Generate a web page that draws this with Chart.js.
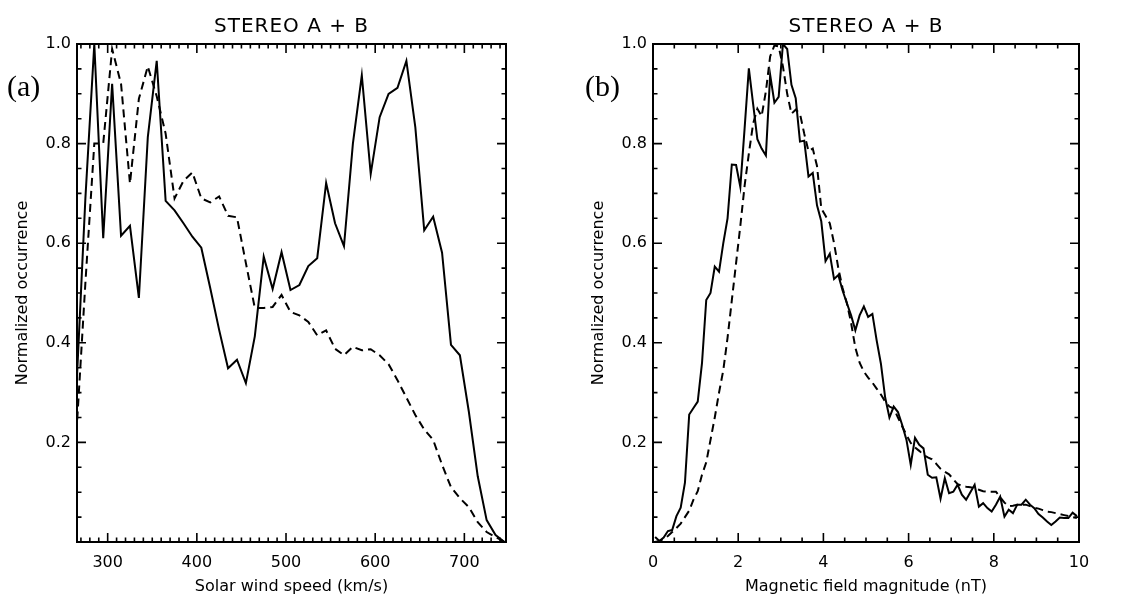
<!DOCTYPE html>
<html>
<head>
<meta charset="utf-8">
<script src="https://cdn.jsdelivr.net/npm/chart.js@4"></script>
<style>
  body { margin: 0; background: #fff; }
  #wrap { position: relative; width: 1132px; height: 599px; }
  canvas { position: absolute; top: 0; }
</style>
</head>
<body>
<div id="wrap">
  <canvas id="panelA" width="566" height="599" style="left:0"></canvas>
  <canvas id="panelB" width="566" height="599" style="left:566px"></canvas>
</div>
<script>
// panel (a): solar wind speed bins (km/s)
var speedBins = [265, 275, 285, 295, 305, 315, 325, 335, 345, 355, 365, 375, 385, 395, 405, 415, 425,
  435, 445, 455, 465, 475, 485, 495, 505, 515, 525, 535, 545, 555, 565, 575, 585, 595, 605, 615, 625,
  635, 645, 655, 665, 675, 685, 695, 705, 715, 725, 735, 745];
var speedSolid = [0.31, 0.69, 1.0, 0.61, 0.92, 0.615, 0.635, 0.49, 0.813, 0.966, 0.685, 0.666, 0.64,
  0.613, 0.591, 0.51, 0.426, 0.349, 0.366, 0.319, 0.413, 0.573, 0.508, 0.582, 0.506, 0.516, 0.554, 0.57,
  0.721, 0.64, 0.594, 0.8, 0.937, 0.739, 0.853, 0.9, 0.912, 0.966, 0.833, 0.626, 0.653, 0.581, 0.396,
  0.375, 0.262, 0.132, 0.044, 0.014, 0.0];
var speedDashed = [0.22, 0.52, 0.8, 0.8, 0.99, 0.92, 0.72, 0.89, 0.955, 0.895, 0.82, 0.69, 0.725, 0.742,
  0.69, 0.682, 0.694, 0.655, 0.652, 0.56, 0.47, 0.47, 0.472, 0.496, 0.462, 0.455, 0.442, 0.415, 0.425,
  0.388, 0.375, 0.392, 0.385, 0.387, 0.375, 0.357, 0.325, 0.29, 0.255, 0.226, 0.205, 0.155, 0.11, 0.088,
  0.07, 0.04, 0.02, 0.01, 0.0];
var speedTicks = [300, 400, 500, 600, 700];

// panel (b): magnetic field magnitude bins (nT)
var fieldBins = [0.05, 0.15, 0.25, 0.35, 0.45, 0.55, 0.65, 0.75, 0.85, 0.95,
  1.05, 1.15, 1.25, 1.35, 1.45, 1.55, 1.65, 1.75, 1.85, 1.95,
  2.05, 2.15, 2.25, 2.35, 2.45, 2.55, 2.65, 2.75, 2.85, 2.95,
  3.05, 3.15, 3.25, 3.35, 3.45, 3.55, 3.65, 3.75, 3.85, 3.95,
  4.05, 4.15, 4.25, 4.35, 4.45, 4.55, 4.65, 4.75, 4.85, 4.95,
  5.05, 5.15, 5.25, 5.35, 5.45, 5.55, 5.65, 5.75, 5.85, 5.95,
  6.05, 6.15, 6.25, 6.35, 6.45, 6.55, 6.65, 6.75, 6.85, 6.95,
  7.05, 7.15, 7.25, 7.35, 7.45, 7.55, 7.65, 7.75, 7.85, 7.95,
  8.05, 8.15, 8.25, 8.35, 8.45, 8.55, 8.65, 8.75, 8.85, 8.95,
  9.05, 9.15, 9.25, 9.35, 9.45, 9.55, 9.65, 9.75, 9.85, 9.95];
var fieldSolid = [0.01, 0.002, 0.009, 0.022, 0.024, 0.052, 0.069, 0.119, 0.256, 0.269,
  0.282, 0.359, 0.486, 0.5, 0.553, 0.543, 0.6, 0.65, 0.758, 0.757,
  0.713, 0.83, 0.951, 0.88, 0.809, 0.79, 0.776, 0.938, 0.882, 0.894,
  1.0, 0.99, 0.918, 0.891, 0.804, 0.806, 0.734, 0.741, 0.676, 0.644,
  0.564, 0.579, 0.528, 0.536, 0.505, 0.48, 0.455, 0.425, 0.455, 0.473,
  0.452, 0.458, 0.405, 0.358, 0.29, 0.25, 0.272, 0.261, 0.235, 0.205,
  0.155, 0.209, 0.195, 0.188, 0.135, 0.129, 0.13, 0.087, 0.128, 0.098,
  0.101, 0.115, 0.095, 0.085, 0.1, 0.115, 0.071, 0.078, 0.068, 0.061,
  0.075, 0.091, 0.051, 0.065, 0.058, 0.075, 0.075, 0.085, 0.075, 0.068,
  0.056, 0.049, 0.041, 0.034, 0.041, 0.049, 0.048, 0.048, 0.059, 0.052];
var fieldDashed = [0.0, 0.002, 0.006, 0.012, 0.02, 0.028, 0.037, 0.05, 0.063, 0.085,
  0.102, 0.135, 0.16, 0.205, 0.25, 0.3, 0.345, 0.41, 0.485, 0.56,
  0.635, 0.715, 0.78, 0.84, 0.87, 0.855, 0.905, 0.975, 0.997, 0.995,
  0.955, 0.9, 0.86, 0.868, 0.86, 0.82, 0.785, 0.79, 0.755, 0.67,
  0.655, 0.64, 0.6, 0.55, 0.51, 0.48, 0.44, 0.39, 0.36, 0.342,
  0.33, 0.32, 0.308, 0.296, 0.282, 0.272, 0.268, 0.25, 0.232, 0.215,
  0.199, 0.19, 0.183, 0.175, 0.17, 0.166, 0.157, 0.147, 0.141, 0.136,
  0.126, 0.116, 0.113, 0.111, 0.11, 0.108, 0.105, 0.102, 0.101, 0.101,
  0.101, 0.09, 0.079, 0.072, 0.073, 0.075, 0.075, 0.075, 0.072, 0.069,
  0.067, 0.064, 0.061, 0.06, 0.058, 0.056, 0.054, 0.052, 0.05, 0.048];
var fieldTicks = [0, 2, 4, 6, 8, 10];

var occurrenceTicks = [0.2, 0.4, 0.6, 0.8, 1.0];

var FONT = 'DejaVu Sans';

function points(xs, ys) {
  return xs.map(function (x, i) { return { x: x, y: ys[i] }; });
}

// IDL style box: frame + inward ticks on all four sides, plus the panel texts
var framePlugin = {
  id: 'frame',
  afterDatasetsDraw: function (chart, args, o) {
    var ctx = chart.ctx, a = chart.chartArea;
    var xs = chart.scales.x, ys = chart.scales.y;
    ctx.save();
    ctx.strokeStyle = '#000';
    ctx.lineWidth = 1.6;
    ctx.beginPath();
    var v, p, len;
    for (v = o.xMinorStart; v <= xs.max + 1e-9; v += o.xMinor) {
      p = xs.getPixelForValue(v);
      len = o.xMajorTicks.some(function (t) { return Math.abs(t - v) < 1e-6; }) ? 9 : 4.5;
      ctx.moveTo(p, a.bottom); ctx.lineTo(p, a.bottom - len);
      ctx.moveTo(p, a.top); ctx.lineTo(p, a.top + len);
    }
    for (v = 0.05; v <= 1.0 + 1e-9; v += 0.05) {
      p = ys.getPixelForValue(v);
      len = occurrenceTicks.some(function (t) { return Math.abs(t - v) < 1e-6; }) ? 9 : 4.5;
      ctx.moveTo(a.left, p); ctx.lineTo(a.left + len, p);
      ctx.moveTo(a.right, p); ctx.lineTo(a.right - len, p);
    }
    ctx.stroke();
    ctx.lineWidth = 2;
    ctx.strokeRect(a.left, a.top, a.right - a.left, a.bottom - a.top);

    var cx = (a.left + a.right) / 2;
    ctx.fillStyle = '#000';
    ctx.textBaseline = 'middle';
    ctx.textAlign = 'center';
    ctx.font = '20px "' + FONT + '"';
    ctx.letterSpacing = '1px';
    ctx.fillText(o.title, cx, 27);
    ctx.letterSpacing = '0px';
    ctx.font = '16px "' + FONT + '"';
    ctx.fillText(o.xTitle, cx, 587);
    ctx.save();
    ctx.translate(o.yTitleX, (a.top + a.bottom) / 2);
    ctx.rotate(-Math.PI / 2);
    ctx.fillText(o.yTitle, 0, 0);
    ctx.restore();
    ctx.textAlign = 'left';
    ctx.font = '30px "Liberation Serif"';
    ctx.fillText(o.label, o.labelX, 88);
    ctx.restore();
  }
};

function makePanel(id, cfg) {
  return new Chart(document.getElementById(id), {
    type: 'line',
    data: {
      datasets: [
        { data: points(cfg.bins, cfg.solid), borderColor: '#000', borderWidth: 2,
          pointRadius: 0, tension: 0, fill: false },
        { data: points(cfg.bins, cfg.dashed), borderColor: '#000', borderWidth: 2,
          borderDash: [8, 5], pointRadius: 0, tension: 0, fill: false }
      ]
    },
    options: {
      responsive: false,
      animation: false,
      layout: { padding: { top: 44, right: cfg.padRight, left: 0, bottom: 0 } },
      plugins: {
        legend: { display: false },
        tooltip: { enabled: false },
        frame: {
          title: 'STEREO A + B', xTitle: cfg.xTitle, yTitle: 'Normalized occurrence',
          yTitleX: cfg.yTitleX, label: cfg.label, labelX: cfg.labelX,
          xMinorStart: cfg.xMinorStart, xMinor: cfg.xMinor, xMajorTicks: cfg.ticks
        }
      },
      scales: {
        x: {
          type: 'linear', min: cfg.xMin, max: cfg.xMax,
          grid: { display: false, drawTicks: false },
          border: { display: false },
          afterBuildTicks: function (s) { s.ticks = cfg.ticks.map(function (t) { return { value: t }; }); },
          ticks: { color: '#000', font: { family: FONT, size: 16 }, padding: 11,
            maxRotation: 0, autoSkip: false,
            callback: function (v) { return String(v); } },
          afterFit: function (s) { s.height = 57; }
        },
        y: {
          type: 'linear', min: 0, max: 1,
          grid: { display: false, drawTicks: false },
          border: { display: false },
          afterBuildTicks: function (s) { s.ticks = occurrenceTicks.map(function (t) { return { value: t }; }); },
          ticks: { color: '#000', font: { family: FONT, size: 16 }, padding: 6,
            callback: function (v) { return v.toFixed(1); } },
          afterFit: function (s) { s.width = cfg.yWidth; }
        }
      }
    },
    plugins: [framePlugin]
  });
}

makePanel('panelA', {
  bins: speedBins, solid: speedSolid, dashed: speedDashed, ticks: speedTicks,
  xMin: 265.6, xMax: 746.7, xMinorStart: 270, xMinor: 10,
  xTitle: 'Solar wind speed (km/s)', yTitleX: 23, label: '(a)', labelX: 7,
  yWidth: 77, padRight: 60
});

makePanel('panelB', {
  bins: fieldBins, solid: fieldSolid, dashed: fieldDashed, ticks: fieldTicks,
  xMin: 0, xMax: 10, xMinorStart: 0, xMinor: 0.5,
  xTitle: 'Magnetic field magnitude (nT)', yTitleX: 33, label: '(b)', labelX: 19,
  yWidth: 87, padRight: 53
});
</script>
</body>
</html>
